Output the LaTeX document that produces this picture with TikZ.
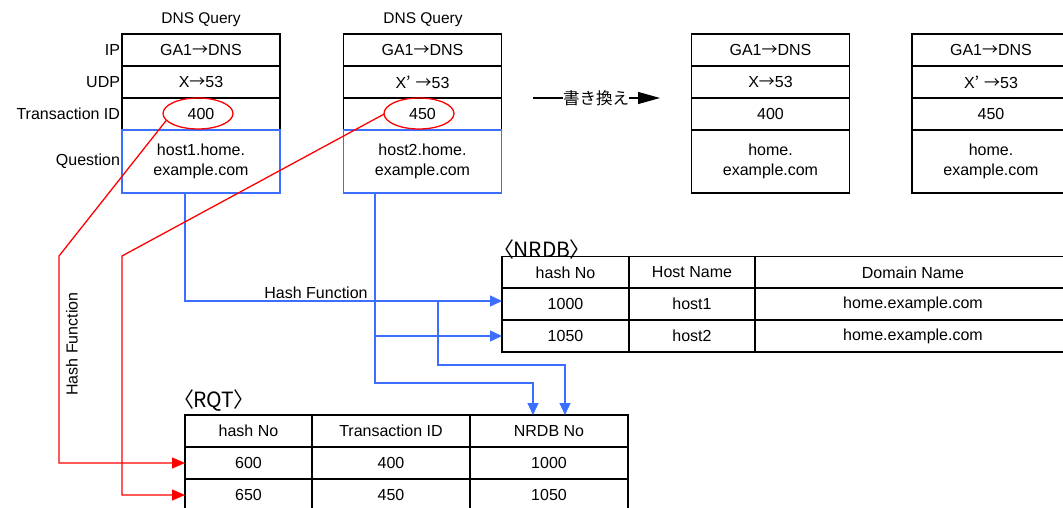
\documentclass[tikz,border=0pt]{standalone}
\usepackage{fontspec}
\setmainfont{Liberation Sans}
\newfontfamily\cjk{Noto Sans CJK JP}
\newfontfamily\propfont[RawFeature=+palt]{Noto Sans CJK JP}
\usetikzlibrary{shapes.geometric,arrows.meta}
\definecolor{qblue}{RGB}{60,110,255}
\definecolor{hred}{RGB}{255,0,0}
% full-width arrow and apostrophe
\newcommand{\toarrow}{{\cjk →}}
\newcommand{\prm}{{\cjk ’}\hspace{5pt}}
\begin{document}
\begin{tikzpicture}[x=1pt,y=-1pt,
  every node/.style={font=\fontsize{16}{20.5}\selectfont, inner sep=0pt, outer sep=0pt},
  cell/.style={draw=black, line width=1.1pt, minimum height=32pt},
  pkt/.style={cell, minimum width=158pt},
  qcell/.style={pkt, minimum height=63pt, align=center},
  bluecell/.style={qcell, draw=qblue, line width=1.3pt},
  lbl/.style={anchor=east},
  idring/.style={ellipse, draw=hred, line width=1.3pt, minimum width=70pt, minimum height=31pt},
  bline/.style={draw=qblue, line width=1.4pt},
  barrow/.style={bline, -{Triangle[length=12pt,width=11pt]}},
  rarrow/.style={draw=hred, line width=1.3pt, -{Triangle[length=13pt,width=11pt]}},
  title/.style={font=\fontsize{15.5}{18}\selectfont},
  tabtitle/.style={font=\propfont\fontsize{21}{24}\selectfont, anchor=south west}
]
\useasboundingbox (0,0) rectangle (1063,508);

% ---- original queries ----
\node[title] (t1) at (201,20) {DNS Query};
\node[title] (t2) at (423,20) {DNS Query};

\node[pkt] (q1ip)  at (201,50)  {GA1\toarrow DNS};
\node[pkt] (q1udp) at (201,82)  {X\toarrow 53};
\node[pkt] (q1tid) at (201,114) {400};
\node[bluecell] (q1q) at (201,161.5) {host1.home.\\example.com};

\node[pkt] (q2ip)  at (422.5,50)  {GA1\toarrow DNS};
\node[pkt] (q2udp) at (422.5,82)  {X\prm\toarrow 53};
\node[pkt] (q2tid) at (422.5,114) {450};
\node[bluecell] (q2q) at (422.5,161.5) {host2.home.\\example.com};

\node[lbl] (lip)  at (120,50)  {IP};
\node[lbl] (ludp) at (120,82)  {UDP};
\node[lbl] (ltid) at (120,114) {Transaction ID};
\node[lbl] (lq)   at (120,161) {Question};

\node[idring] (e1) at (198,113.5) {};
\node[idring] (e2) at (419,113.5) {};

% ---- rewriting ----
\node[font=\cjk\fontsize{16.5}{20}\selectfont] (rw) at (596,98) {書き換え};
\coordinate (rwa) at (533,98);
\coordinate (rwb) at (660,98);
\draw[line width=1.1pt] (rwa) -- (rw.west);
\draw[line width=1.1pt, -{Triangle[length=22pt,width=12pt]}] (rw.east) -- (rwb);

% ---- rewritten queries ----
\node[pkt] (q3ip)  at (770.5,50)  {GA1\toarrow DNS};
\node[pkt] (q3udp) at (770.5,82)  {X\toarrow 53};
\node[pkt] (q3tid) at (770.5,114) {400};
\node[qcell] (q3q) at (770.5,161.5) {home.\\example.com};

\node[pkt] (q4ip)  at (991,50)  {GA1\toarrow DNS};
\node[pkt] (q4udp) at (991,82)  {X\prm\toarrow 53};
\node[pkt] (q4tid) at (991,114) {450};
\node[qcell] (q4q) at (991,161.5) {home.\\example.com};

% ---- NRDB ----
\node[tabtitle] (nt) at (503,259) {〈NRDB〉};
\node[cell, minimum width=127pt] (nh1) at (565.5,272.5) {hash No};
\node[cell, minimum width=126pt] (nh2) at (692,272.5) {Host Name};
\node[cell, minimum width=316pt] (nh3) at (913,272.5) {Domain Name};
\node[cell, minimum width=127pt] (n1000) at (565.5,304) {1000};
\node[cell, minimum width=126pt] (nhost1) at (692,304) {host1};
\node[cell, minimum width=316pt] (ndom1) at (913,304) {home.example.com};
\node[cell, minimum width=127pt] (n1050) at (565.5,336) {1050};
\node[cell, minimum width=126pt] (nhost2) at (692,336) {host2};
\node[cell, minimum width=316pt] (ndom2) at (913,336) {home.example.com};

% ---- RQT ----
\node[tabtitle] (rt) at (183,411) {〈RQT〉};
\node[cell, minimum width=127pt] (rh1) at (248.5,431) {hash No};
\node[cell, minimum width=158pt] (rh2) at (391,431) {Transaction ID};
\node[cell, minimum width=158pt] (rh3) at (549,431) {NRDB No};
\node[cell, minimum width=127pt] (r600) at (248.5,463) {600};
\node[cell, minimum width=158pt] (r400) at (391,463) {400};
\node[cell, minimum width=158pt] (r1000) at (549,463) {1000};
\node[cell, minimum width=127pt] (r650) at (248.5,495) {650};
\node[cell, minimum width=158pt] (r450) at (391,495) {450};
\node[cell, minimum width=158pt] (r1050) at (549,495) {1050};

% ---- hash lookups from the Question field ----
\coordinate (b1x) at (185,0);
\coordinate (h1) at ([yshift=3pt]n1000.west);
\draw[barrow] (q1q.south -| b1x) |- (h1);
\node[anchor=south] (hf1) at (316,299) {Hash Function};

\coordinate (t2c) at (375,383);
\coordinate (a1) at (533,0);
\draw[barrow] (q2q.south -| t2c) -- (t2c) -| (a1 |- rh3.north);
\draw[barrow] (n1050.west -| t2c) -- (n1050.west);

\coordinate (t3) at (438,365);
\coordinate (a2) at (565,0);
\draw[barrow] (h1 -| t3) -- (t3) -| (a2 |- rh3.north);

% ---- hash of the Transaction ID ----
\coordinate (k1) at (59,256);
\coordinate (k2) at (122,256);
\draw[rarrow] (e1.192) -- (k1) |- (r600.west);
\draw[rarrow] (e2.181) -- (k2) |- (r650.west);
\node[rotate=90] (hf2) at (72,344) {Hash Function};
\end{tikzpicture}
\end{document}
